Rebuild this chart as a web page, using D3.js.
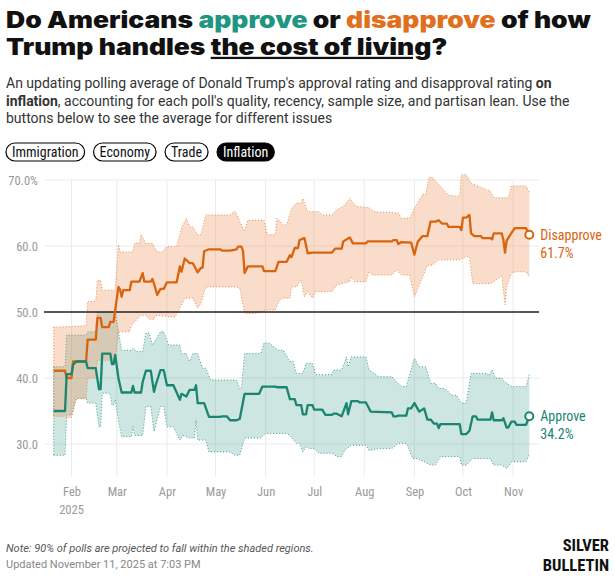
<!DOCTYPE html>
<html lang="en">
<head>
  <meta charset="UTF-8" />
  <title>Trump approval on inflation</title>
  <style>
    body {
      margin: 0;
      background: #ffffff;
    }
    svg text {
      font-family: Roboto, "Noto Sans", sans-serif;
    }
    .title {
      font-family: Inter, "DejaVu Sans", sans-serif !important;
      font-weight: 900;
      font-size: 22.5px;
      fill: #111;
    }
    .sub {
      font-size: 14px;
      fill: #333;
    }
    .pill text {
      font-size: 14px;
    }
    .narrow {
      font-family: "Roboto Condensed", "Liberation Sans Narrow", "DejaVu Sans Condensed", sans-serif !important;
      font-stretch: condensed;
    }
    .tick-label {
      font-size: 12.5px;
      fill: #9a9a9a;
    }
    .grid {
      stroke: #ebebeb;
      stroke-width: 1px;
    }
    .note {
      font-size: 11px;
      font-style: italic;
      fill: #555;
    }
    .updated {
      font-size: 11px;
      fill: #888;
    }
    .brand {
      font-size: 16.5px;
      font-weight: 700;
      fill: #111;
    }
  </style>
  <script src="https://d3js.org/d3.v7.min.js"></script>
</head>
<body>
  <svg id="chart" width="615" height="576"></svg>

  <script>
    // polling average, inflation issue
    const disapprove = [["01-21",41.1],["01-28",41.1],["01-29",40.0],["02-01",40.0],["02-02",42.5],["02-10",42.5],["02-11",45.8],["02-16",45.8],["02-17",49.1],["02-19",49.1],["02-20",47.7],["02-24",47.7],["02-25",48.5],["02-27",48.5],["03-02",53.8],["03-03",53.4],["03-04",52.3],["03-05",53.3],["03-09",53.3],["03-10",54.6],["03-15",54.6],["03-17",55.9],["03-18",54.6],["03-22",54.6],["03-23",55.0],["03-24",54.3],["03-26",52.6],["03-28",53.5],["03-30",53.5],["04-01",54.5],["04-07",54.5],["04-09",56.9],["04-10",56.1],["04-12",58.1],["04-15",57.4],["04-17",57.4],["04-20",56.0],["04-22",56.7],["04-23",56.7],["04-24",59.2],["04-27",59.5],["05-04",59.5],["05-05",59.3],["05-10",59.3],["05-14",59.5],["05-15",59.9],["05-17",59.9],["05-18",59.3],["05-19",55.9],["05-21",56.9],["05-30",56.9],["05-31",56.2],["06-07",56.2],["06-09",57.6],["06-14",57.6],["06-16",58.6],["06-17",58.3],["06-19",59.7],["06-21",59.7],["06-22",60.9],["06-25",61.2],["06-27",58.9],["06-30",59.0],["07-12",59.0],["07-14",59.6],["07-18",59.6],["07-19",60.7],["07-23",61.3],["07-25",60.4],["08-02",60.4],["08-03",60.7],["08-18",60.7],["08-19",60.9],["08-21",60.9],["08-22",60.3],["08-24",60.6],["08-30",60.5],["09-01",58.7],["09-03",60.6],["09-06",61.5],["09-09",61.5],["09-11",63.7],["09-14",63.7],["09-16",63.9],["09-18",63.4],["09-21",63.4],["09-22",62.9],["09-29",62.9],["09-30",62.4],["10-01",64.3],["10-03",64.3],["10-05",64.7],["10-06",61.9],["10-08",61.5],["10-12",61.5],["10-13",61.2],["10-18",61.2],["10-19",61.0],["10-20",61.9],["10-25",61.9],["10-26",60.9],["10-27",59.0],["10-28",60.8],["10-30",61.6],["11-02",62.7],["11-09",62.7],["11-11",61.7]];
    const disapproveHigh = [["01-21",47.7],["02-10",47.9],["02-11",51.6],["02-16",51.6],["02-17",54.8],["02-19",54.8],["02-20",53.3],["02-28",53.3],["03-02",60.2],["03-03",59.1],["03-11",59.1],["03-12",60.4],["03-15",60.4],["03-16",61.7],["03-19",60.4],["03-23",60.4],["03-26",59.1],["03-29",59.1],["04-01",59.9],["04-07",59.9],["04-10",62.7],["04-13",64.2],["04-15",62.9],["04-17",62.9],["04-20",61.7],["04-22",61.7],["04-25",64.7],["05-10",64.7],["05-13",65.3],["05-14",64.8],["05-19",62.2],["05-21",63.9],["05-31",63.9],["06-02",61.7],["06-07",61.7],["06-08",64.2],["06-12",63.2],["06-14",63.2],["06-17",65.7],["06-20",66.5],["06-23",66.5],["06-24",67.2],["06-25",66.5],["06-27",65.2],["07-04",65.2],["07-06",64.7],["07-12",64.7],["07-15",65.5],["07-19",66.0],["07-23",67.2],["07-27",66.0],["08-04",65.8],["08-07",65.2],["08-22",65.0],["08-24",64.2],["08-29",64.2],["09-01",65.7],["09-06",67.8],["09-08",67.8],["09-10",70.4],["09-12",70.4],["09-16",69.3],["09-22",67.7],["09-29",67.5],["09-30",70.8],["10-03",70.8],["10-06",69.5],["10-13",68.8],["10-18",68.3],["10-20",67.3],["10-29",67.3],["10-31",69.1],["11-09",69.1],["11-11",68.2]];
    const disapproveLow = [["01-21",34.2],["01-28",34.2],["01-29",34.0],["02-01",34.0],["02-04",36.9],["02-10",36.9],["02-11",40.0],["02-16",40.0],["02-17",42.7],["02-28",42.7],["03-02",47.0],["03-09",47.0],["03-10",48.0],["03-16",49.5],["03-19",49.5],["03-21",48.9],["03-24",48.9],["03-25",49.5],["04-06",49.2],["04-09",50.6],["04-12",52.1],["04-17",52.1],["04-20",50.6],["04-22",51.3],["04-25",53.8],["05-14",53.8],["05-16",53.6],["05-19",49.8],["05-27",49.8],["06-01",50.3],["06-07",50.3],["06-09",51.5],["06-11",52.1],["06-16",52.1],["06-17",53.8],["06-20",53.8],["06-23",54.8],["06-25",52.3],["06-27",53.1],["06-30",52.1],["07-02",53.1],["07-12",53.1],["07-15",54.1],["07-23",54.6],["07-24",55.3],["07-26",54.6],["08-02",54.6],["08-04",56.1],["08-06",55.6],["08-18",55.6],["08-21",56.4],["08-24",55.6],["08-29",55.6],["09-01",52.3],["09-03",53.5],["09-09",57.1],["09-12",57.1],["09-16",57.9],["09-29",57.9],["10-03",58.4],["10-05",58.4],["10-07",54.3],["10-18",54.3],["10-20",54.6],["10-25",55.5],["10-27",51.1],["10-28",53.8],["10-31",55.9],["11-03",56.1],["11-09",56.1],["11-11",55.3]];

    const approve = [["01-21",35.0],["01-28",35.0],["01-29",40.6],["02-01",40.6],["02-02",42.0],["02-04",42.5],["02-10",42.5],["02-11",41.5],["02-16",41.5],["02-18",38.3],["02-19",38.3],["02-20",43.7],["02-25",43.7],["02-26",42.1],["02-27",42.1],["02-28",43.5],["03-02",40.0],["03-04",37.8],["03-10",37.8],["03-11",38.8],["03-12",37.8],["03-16",37.8],["03-17",39.4],["03-19",41.1],["03-22",41.1],["03-24",37.9],["03-25",38.9],["03-28",41.2],["03-30",41.2],["04-01",38.9],["04-05",38.9],["04-09",36.7],["04-10",37.6],["04-13",37.2],["04-15",38.2],["04-18",38.2],["04-19",38.9],["04-20",36.2],["04-24",36.2],["04-27",34.1],["05-04",34.1],["05-05",34.2],["05-08",34.2],["05-10",33.6],["05-14",33.6],["05-16",33.8],["05-19",37.6],["05-28",37.6],["05-30",38.7],["06-07",38.7],["06-08",38.6],["06-14",38.6],["06-16",36.8],["06-19",36.8],["06-20",35.9],["06-23",35.9],["06-24",34.5],["06-26",34.5],["06-27",35.9],["06-30",35.9],["07-01",35.2],["07-06",35.2],["07-08",34.4],["07-12",34.4],["07-13",34.6],["07-15",34.6],["07-18",34.2],["07-21",36.2],["07-22",34.5],["07-24",36.5],["07-28",36.5],["07-29",36.3],["08-02",36.3],["08-05",34.9],["08-18",34.8],["08-19",34.2],["08-21",34.2],["08-22",34.3],["08-27",34.3],["08-28",35.4],["08-30",35.4],["09-01",36.2],["09-04",34.9],["09-07",35.4],["09-09",33.7],["09-11",33.7],["09-13",33.1],["09-15",33.1],["09-16",32.4],["09-17",33.0],["09-29",33.0],["09-30",31.5],["10-03",31.5],["10-05",32.0],["10-07",34.2],["10-09",34.2],["10-10",33.7],["10-18",33.7],["10-19",34.8],["10-20",33.6],["10-25",33.6],["10-26",33.9],["10-28",32.5],["10-29",32.5],["10-31",33.4],["11-02",33.4],["11-03",32.9],["11-09",32.9],["11-11",34.2]];
    const approveHigh = [["01-21",41.7],["01-28",41.7],["01-29",46.5],["02-10",46.5],["02-11",47.0],["02-16",47.0],["02-17",50.0],["02-28",50.0],["03-02",47.0],["03-04",44.2],["03-10",44.2],["03-11",44.5],["03-13",44.0],["03-17",44.0],["03-19",46.8],["03-21",46.8],["03-23",45.0],["03-28",47.0],["03-30",47.0],["04-02",45.0],["04-09",45.0],["04-10",43.7],["04-13",43.7],["04-15",42.5],["04-17",43.7],["04-20",43.7],["04-23",41.5],["04-25",41.5],["04-28",39.7],["05-14",39.7],["05-16",38.4],["05-17",38.4],["05-19",43.7],["05-29",43.7],["05-31",45.3],["06-03",45.3],["06-09",44.2],["06-12",44.2],["06-16",42.5],["06-18",42.5],["06-20",40.7],["06-24",40.7],["06-26",42.2],["06-30",42.2],["07-02",40.5],["07-12",40.5],["07-13",41.2],["07-18",41.2],["07-21",43.2],["07-22",41.7],["07-24",43.2],["08-02",43.2],["08-04",41.2],["08-10",40.2],["08-18",40.2],["08-21",39.4],["08-24",38.7],["08-27",38.7],["08-29",40.5],["09-01",43.0],["09-04",41.7],["09-08",41.7],["09-11",39.2],["09-14",39.2],["09-16",38.4],["09-20",38.4],["09-24",37.4],["09-27",37.4],["09-30",36.2],["10-03",36.2],["10-06",40.7],["10-16",40.7],["10-17",40.3],["10-19",41.2],["10-21",40.0],["10-25",40.0],["10-26",39.6],["10-31",38.7],["11-09",38.7],["11-11",40.5]];
    const approveLow = [["01-21",28.3],["01-28",28.3],["01-29",34.4],["02-01",34.4],["02-04",36.9],["02-10",36.9],["02-11",36.2],["02-16",36.2],["02-18",32.6],["02-19",32.6],["02-20",37.7],["02-25",37.7],["02-26",35.9],["02-27",35.9],["02-28",36.7],["03-02",33.6],["03-04",31.1],["03-10",31.1],["03-11",32.6],["03-12",31.3],["03-17",31.3],["03-19",35.7],["03-22",35.7],["03-24",31.9],["03-28",35.7],["03-30",35.7],["04-01",32.6],["04-05",32.6],["04-09",30.6],["04-11",31.3],["04-15",30.9],["04-18",30.9],["04-19",33.6],["04-20",30.6],["04-25",30.6],["04-27",28.8],["05-10",28.8],["05-13",28.3],["05-16",28.3],["05-19",30.9],["05-29",30.9],["06-01",31.6],["06-14",31.6],["06-16",31.3],["06-20",30.1],["06-22",30.1],["06-24",28.8],["06-26",29.6],["06-28",29.3],["07-01",29.3],["07-04",28.6],["07-12",28.6],["07-15",28.1],["07-18",28.1],["07-20",29.1],["07-24",29.8],["08-02",29.8],["08-04",29.0],["08-10",29.3],["08-18",29.3],["08-22",30.1],["08-27",30.1],["08-31",27.8],["09-03",27.8],["09-07",27.3],["09-11",26.8],["09-14",26.8],["09-17",28.1],["09-29",28.1],["09-30",26.8],["10-03",26.8],["10-07",27.8],["10-18",27.8],["10-20",26.8],["10-25",26.8],["10-28",26.3],["10-31",27.3],["11-09",27.3],["11-11",28.5]];

    const yTicks = [30, 40, 50, 60, 70];
    const monthTicks = ["02-01","03-01","04-01","05-01","06-01","07-01","08-01","09-01","10-01","11-01"];
    const issues = ["Immigration", "Economy", "Trade", "Inflation"];
    const activeIssue = "Inflation";

    const orange = "#d9640f";
    const teal = "#1a8570";

    const parse = d3.timeParse("%Y-%m-%d");
    const toDate = s => parse("2025-" + s);
    const pts = arr => arr.map(([d, v]) => ({ date: toDate(d), value: v }));

    const svg = d3.select("#chart");

    // ---- header ----
    const title = svg.append("g");
    const t1 = title.append("text").attr("class", "title").attr("x", 0).attr("y", 28);
    t1.append("tspan").text("Do Americans ");
    t1.append("tspan").attr("fill", "#1f9682").text("approve");
    t1.append("tspan").text(" or ");
    t1.append("tspan").attr("fill", "#e0701e").text("disapprove");
    t1.append("tspan").text(" of how");
    const t2 = title.append("text").attr("class", "title").attr("x", 0).attr("y", 55);
    t2.append("tspan").text("Trump handles ");
    t2.append("tspan").attr("text-decoration", "underline").text("the cost of living");
    t2.append("tspan").text("?");

    // the original face is wider than Inter: stretch horizontally to the same line width
    const sx = 585 / t1.node().getComputedTextLength();
    title.attr("transform", `translate(6,0) scale(${sx},1)`);

    const subLines = [
      [["An updating polling average of Donald Trump's approval rating and disapproval rating ", 400], ["on", 700]],
      [["inflation", 700], [", accounting for each poll's quality, recency, sample size, and partisan lean. Use the", 400]],
      [["buttons below to see the average for different issues", 400]]
    ];
    subLines.forEach((parts, i) => {
      const t = svg.append("text").attr("class", "sub").attr("x", 6).attr("y", 88 + i * 17.5);
      parts.forEach(([s, w]) => t.append("tspan").attr("font-weight", w).text(s));
    });

    // issue pills
    let px = 6;
    issues.forEach(name => {
      const g = svg.append("g").attr("class", "pill");
      const label = g.append("text").attr("class", "narrow").attr("y", 157).text(name);
      const w = label.node().getComputedTextLength() + 12;
      const on = name === activeIssue;
      g.insert("rect", "text")
        .attr("x", px).attr("y", 143).attr("width", w).attr("height", 18)
        .attr("rx", 9)
        .attr("fill", on ? "#000" : "#fff")
        .attr("stroke", "#000").attr("stroke-width", 1.2);
      label.attr("x", px + 6).attr("fill", on ? "#fff" : "#111");
      px += w + 9;
    });

    // ---- chart ----
    const x = d3.scaleTime()
      .domain([toDate("01-15"), toDate("11-17")])
      .range([44, 539]);
    const y = d3.scaleLinear()
      .domain([25, 70])
      .range([477, 180]);

    const plotTop = 180, plotBottom = 477;

    const grid = svg.append("g");
    grid.selectAll(".hg").data(yTicks.filter(v => v !== 50)).join("line")
      .attr("class", "grid")
      .attr("x1", x.range()[0]).attr("x2", x.range()[1])
      .attr("y1", d => y(d)).attr("y2", d => y(d));
    grid.selectAll(".vg").data(monthTicks).join("line")
      .attr("class", "grid")
      .attr("x1", d => x(toDate(d))).attr("x2", d => x(toDate(d)))
      .attr("y1", plotTop).attr("y2", plotBottom);

    const line = d3.line().x(d => x(d.date)).y(d => y(d.value));
    const band = (hi, lo) => line(pts(hi).concat(pts(lo).reverse())) + "Z";

    const bands = [
      { hi: approveHigh, lo: approveLow, color: "#3f9f8c", op: 0.26 },
      { hi: disapproveHigh, lo: disapproveLow, color: "#ec8b4c", op: 0.3 }
    ];
    bands.forEach(b => {
      svg.append("path").attr("d", band(b.hi, b.lo))
        .attr("fill", b.color).attr("fill-opacity", b.op);
      [b.hi, b.lo].forEach(edge => {
        svg.append("path").attr("d", line(pts(edge)))
          .attr("fill", "none").attr("stroke", b.color)
          .attr("stroke-width", 1).attr("stroke-dasharray", "1,2");
      });
    });
    // start edge of bands
    bands.forEach(b => {
      const d0 = toDate(b.hi[0][0]);
      svg.append("line")
        .attr("x1", x(d0)).attr("x2", x(d0))
        .attr("y1", y(b.hi[0][1])).attr("y2", y(b.lo[0][1]))
        .attr("stroke", b.color).attr("stroke-width", 1).attr("stroke-dasharray", "1,2");
    });

    // 50% rule
    svg.append("line")
      .attr("x1", x.range()[0]).attr("x2", x.range()[1])
      .attr("y1", y(50)).attr("y2", y(50))
      .attr("stroke", "#222").attr("stroke-width", 1.3);

    const series = [
      { data: disapprove, color: orange, name: "Disapprove" },
      { data: approve, color: teal, name: "Approve" }
    ];
    series.forEach(s => {
      svg.append("path").attr("d", line(pts(s.data)))
        .attr("fill", "none").attr("stroke", s.color)
        .attr("stroke-width", 2.3).attr("stroke-linejoin", "round");
    });
    series.forEach(s => {
      const last = pts(s.data).slice(-1)[0];
      const cx = x(last.date), cy = y(last.value);
      svg.append("circle").attr("cx", cx).attr("cy", cy).attr("r", 4)
        .attr("fill", "#fff").attr("stroke", s.color).attr("stroke-width", 2);
      svg.append("text").attr("class", "narrow").attr("x", cx + 11).attr("y", cy + 5)
        .attr("fill", s.color).style("font-size", "14px").text(s.name);
      svg.append("text").attr("class", "narrow").attr("x", cx + 11).attr("y", cy + 23)
        .attr("fill", s.color).style("font-size", "14px").text(last.value.toFixed(1) + "%");
    });

    // y axis labels
    const yAxis = d3.axisLeft(y)
      .tickValues(yTicks)
      .tickSize(0)
      .tickPadding(0)
      .tickFormat(d => d === 70 ? d.toFixed(1) + "%" : d.toFixed(1));
    const ya = svg.append("g").attr("transform", "translate(38,0)").call(yAxis);
    ya.select(".domain").remove();
    ya.selectAll("text").attr("class", "tick-label narrow").attr("dy", "0.35em");

    // x axis labels
    const xAxis = d3.axisBottom(x)
      .tickValues(monthTicks.map(toDate))
      .tickSize(0)
      .tickPadding(0)
      .tickFormat(d3.timeFormat("%b"));
    const xa = svg.append("g").attr("transform", "translate(0,487)").call(xAxis);
    xa.select(".domain").remove();
    xa.selectAll("text").attr("class", "tick-label narrow").attr("dy", "0.71em");
    svg.append("text").attr("class", "tick-label narrow")
      .attr("x", x(toDate(monthTicks[0]))).attr("y", 514)
      .attr("text-anchor", "middle").text("2025");

    // ---- footer ----
    svg.append("text").attr("class", "note").attr("x", 6).attr("y", 552)
      .text("Note: 90% of polls are projected to fall within the shaded regions.");
    svg.append("text").attr("class", "updated").attr("x", 6).attr("y", 568)
      .text("Updated November 11, 2025 at 7:03 PM");
    svg.append("text").attr("class", "brand narrow").attr("x", 609).attr("y", 551)
      .attr("text-anchor", "end").text("SILVER");
    svg.append("text").attr("class", "brand narrow").attr("x", 609).attr("y", 570.5)
      .attr("text-anchor", "end").text("BULLETIN");
  </script>
</body>
</html>
